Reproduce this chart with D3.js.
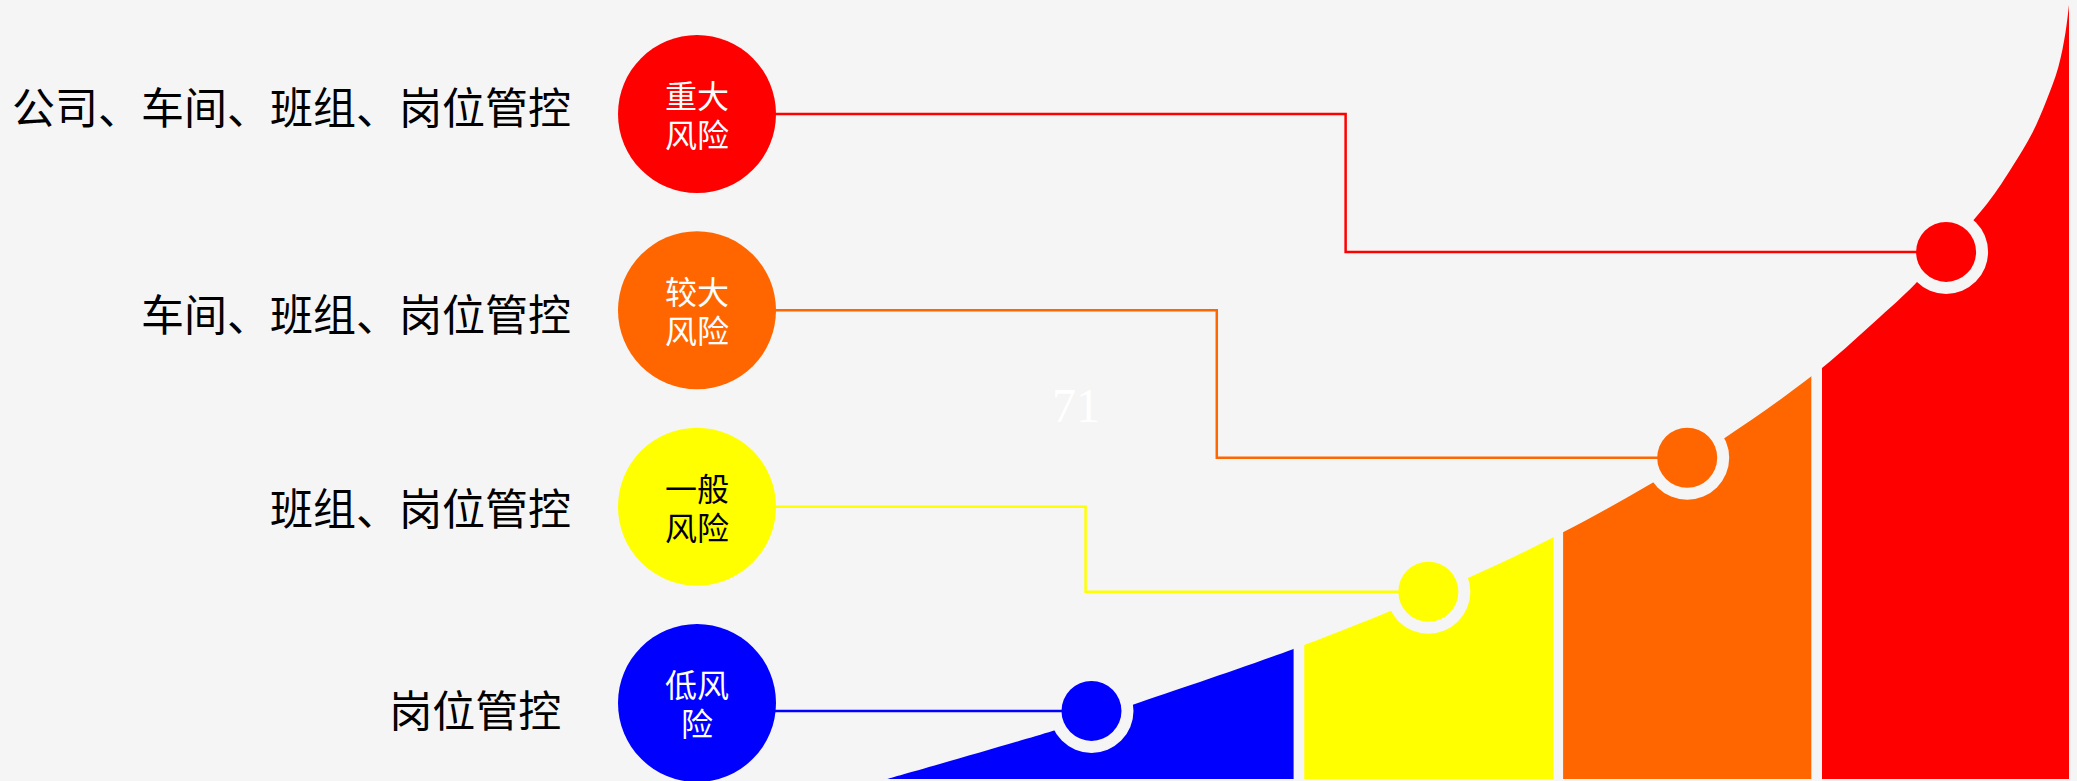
<!DOCTYPE html>
<html>
<head>
<meta charset="utf-8">
<script src="https://cdn.jsdelivr.net/npm/d3@7"></script>
<style>
  html, body { margin: 0; padding: 0; background: #f5f5f5; }
  svg { display: block; }
  .ctext {
    width: 66px; margin: 0 auto; text-align: center;
    font-family: 'Noto Sans CJK SC', sans-serif;
    font-size: 32px; line-height: 39px;
    word-break: break-all;
  }
</style>
</head>
<body>
<div id="chart"></div>
<script>
// ---------- data ----------
const levels = ["重大风险", "较大风险", "一般风险", "低风险"];
const controlLabels = ["公司、车间、班组、岗位管控", "车间、班组、岗位管控", "班组、岗位管控", "岗位管控 "];

// rising risk curve (data units 0-100)
const curveX = [0, 14.0, 20.8, 34.4, 42.6, 49.2, 56.6, 64.7, 70.9, 78.6, 84.0, 87.0, 93.1, 95.2, 96.9, 98.1, 99.1, 99.7, 100];
const curveY = [0, 6.2, 9.6, 16.8, 21.7, 26.0, 31.4, 38.2, 44.1, 52.5, 59.7, 64.0, 74.4, 79.1, 83.5, 87.7, 92.0, 96.4, 100];

// curve segments per level (same order as levels)
const segStart = [79.1, 57.2, 35.3, 0];
const segEnd = [100, 78.2, 56.4, 34.4];

// markers on the curve per level
const markerX = [89.6, 67.7, 45.8, 17.3];
const markerY = [68.1, 41.5, 24.2, 8.8];

// connector step position per level (null = straight)
const stepX = [38.8, 27.9, 16.8, null];

const pageNumber = "71";

// ---------- styles / layout ----------
const colors = ["#ff0000", "#ff6600", "#ffff00", "#0000ff"];
const circleTextColors = ["#ffffff", "#ffffff", "#000000", "#ffffff"];
const labelDy = [-9, 2, -1, 5];
const bg = "#f5f5f5";
const W = 2077, H = 781;

const svg = d3.select("#chart").append("svg")
  .attr("width", W).attr("height", H)
  .style("background", bg);

const x = d3.scaleLinear().domain([0, 100]).range([887, 2069]);
const y = d3.scaleLinear().domain([0, 100]).range([779, 5]);
const levelY = d3.scalePoint().domain(levels).range([114, 703]);
const bigCx = 697, bigR = 79;

const curvePts = curveX.map((v, i) => [v, curveY[i]]);
const area = d3.area()
  .x(d => x(d[0]))
  .y0(y(0))
  .y1(d => y(d[1]))
  .curve(d3.curveCatmullRom.alpha(0.5));

const defs = svg.append("defs");
levels.forEach((lv, i) => {
  defs.append("clipPath").attr("id", "seg" + i)
    .append("rect")
    .attr("x", x(segStart[i]))
    .attr("y", 0)
    .attr("width", x(segEnd[i]) - x(segStart[i]))
    .attr("height", H);
});

// area segments
svg.append("g").selectAll("path")
  .data(levels)
  .join("path")
  .attr("d", area(curvePts))
  .attr("clip-path", (d, i) => `url(#seg${i})`)
  .attr("fill", (d, i) => colors[i]);

// rings (background colour) around markers
svg.append("g").selectAll("circle")
  .data(levels)
  .join("circle")
  .attr("cx", (d, i) => x(markerX[i]))
  .attr("cy", (d, i) => y(markerY[i]))
  .attr("r", 42)
  .attr("fill", bg);

// connectors
const line = d3.line();
svg.append("g").selectAll("path")
  .data(levels)
  .join("path")
  .attr("d", (d, i) => {
    const ly = levelY(d);
    const mx = x(markerX[i]), my = y(markerY[i]);
    if (stepX[i] === null) return line([[bigCx, my], [mx, my]]);
    const sx = x(stepX[i]);
    return line([[bigCx, ly], [sx, ly], [sx, my], [mx, my]]);
  })
  .attr("fill", "none")
  .attr("stroke", (d, i) => colors[i])
  .attr("stroke-width", 2.5);

// marker circles
svg.append("g").selectAll("circle")
  .data(levels)
  .join("circle")
  .attr("cx", (d, i) => x(markerX[i]))
  .attr("cy", (d, i) => y(markerY[i]))
  .attr("r", 30)
  .attr("fill", (d, i) => colors[i]);

// big level circles
const bigG = svg.append("g").selectAll("g")
  .data(levels)
  .join("g")
  .attr("transform", d => `translate(${bigCx},${levelY(d)})`);
bigG.append("circle")
  .attr("r", bigR)
  .attr("fill", (d, i) => colors[i]);
bigG.append("foreignObject")
  .attr("x", -50).attr("y", -39)
  .attr("width", 100).attr("height", 78)
  .append("xhtml:div")
  .attr("class", "ctext")
  .style("color", (d, i) => circleTextColors[i])
  .text(d => d);

// left labels
svg.append("g").selectAll("text")
  .data(levels)
  .join("text")
  .attr("x", 571)
  .attr("y", (d, i) => levelY(d) + labelDy[i])
  .attr("text-anchor", "end")
  .attr("dominant-baseline", "central")
  .attr("font-family", "'Noto Sans CJK SC', sans-serif")
  .attr("font-size", 43)
  .attr("fill", "#000")
  .style("white-space", "pre")
  .text((d, i) => controlLabels[i]);

// faint page number
svg.append("text")
  .attr("x", 1076)
  .attr("y", 422)
  .attr("text-anchor", "middle")
  .attr("font-family", "'Liberation Serif', 'DejaVu Serif', serif")
  .attr("font-size", 48)
  .attr("fill", "#ffffff")
  .text(pageNumber);
</script>
</body>
</html>
